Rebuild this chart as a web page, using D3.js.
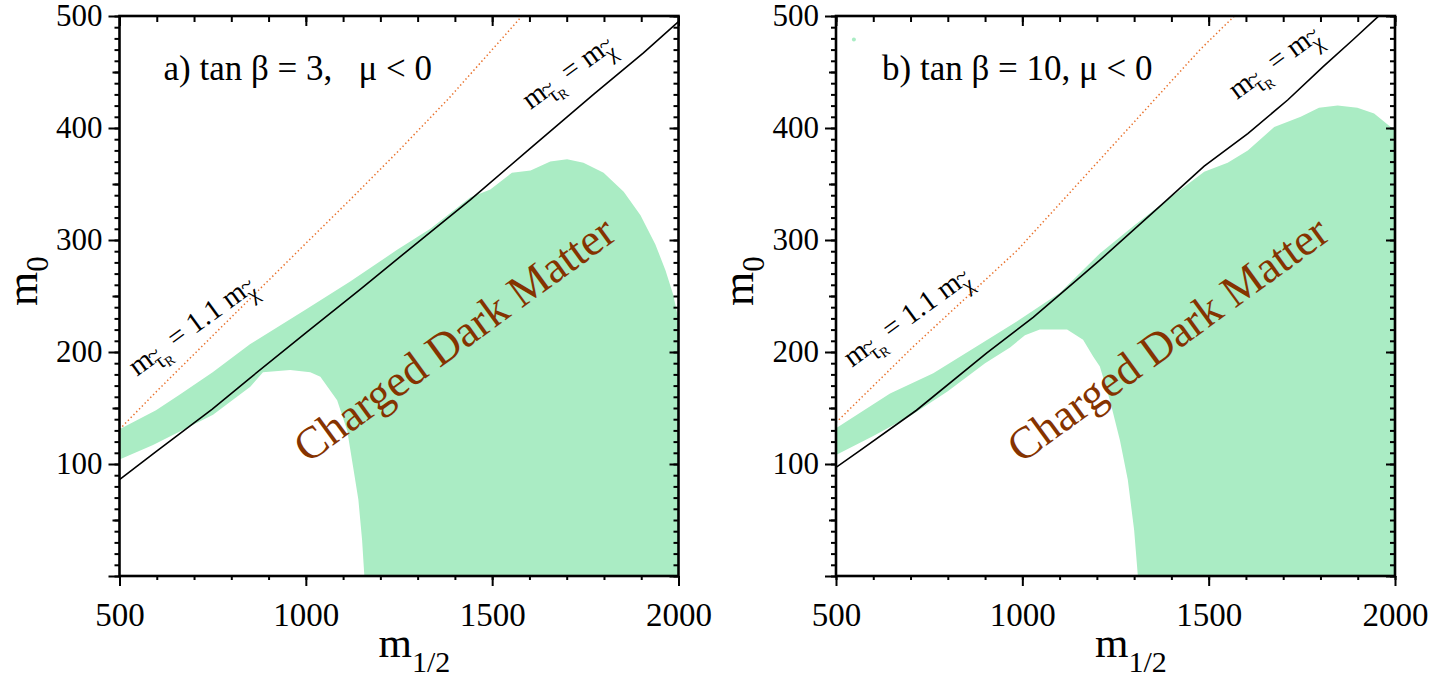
<!DOCTYPE html>
<html>
<head>
<meta charset="utf-8">
<script src="https://cdn.jsdelivr.net/npm/d3@7"></script>
<style>
  body { margin: 0; background: #fff; }
  text { font-family: "Liberation Serif", "Times New Roman", serif; }
</style>
</head>
<body>
<div id="chart"></div>
<script>
// ---- data (m_1/2, m_0) ----
const xTicks = [500, 1000, 1500, 2000];
const yTicks = [0, 100, 200, 300, 400, 500];

// panel a) tan beta = 3
const regionA = [[500,104],[500,131],[598,148],[662,162],[750,182],[850,207],[1000,238],[1119,263],
  [1244,291],[1334,310],[1441,338],[1495,345],[1553,360],[1603,362],[1656,370],[1701,372],[1745,369],
  [1799,360],[1853,343],[1898,322],[1938,296],[1965,273],[1986,251],[2000,229],[2000,0],[1157,0],
  [1151,32],[1141,68],[1127,97],[1111,130],[1084,157],[1039,178],[1012,182],[958,184],[885,182],
  [851,169],[751,144],[590,117],[500,104]];
const equalA = [[500,86],[598,111],[749,149],[851,177],[1000,217],[1146,256],[1275,291],[1442,336],
  [1603,382],[1772,430],[1906,467],[2000,495]];
const dottedA = [[500,131],[600,165],[700,198],[800,231],[900,264],[1000,297],[1119,336],[1250,380],
  [1388,428],[1500,470],[1580,500]];

// panel b) tan beta = 10
const regionB = [[500,108],[500,132],[645,163],[761,181],[877,205],[984,227],[1101,253],[1208,288],
  [1300,313],[1389,336],[1488,361],[1551,369],[1605,380],[1676,401],[1747,410],[1796,418],[1846,420],
  [1899,418],[1944,413],[1981,403],[2000,398],[2000,0],[1310,0],[1300,41],[1283,86],[1262,121],
  [1235,157],[1208,187],[1190,196],[1163,211],[1120,220],[1047,220],[1007,215],[967,204],[900,190],
  [800,165],[700,143],[600,125],[500,108]];
const equalB = [[500,97],[564,112],[716,148],[904,199],[1029,231],[1145,264],[1208,282],[1389,336],
  [1488,366],[1605,395],[1712,425],[1808,455],[1888,479],[1953,499],[1960,501]];
const dottedB = [[500,137],[708,205],[987,291],[1280,398],[1477,470],[1569,500]];
const speckB = [[548,479]];

const titles = ["a) tan \u03b2 = 3,   \u03bc < 0", "b) tan \u03b2 = 10, \u03bc < 0"];

const svgWidth = 1449, svgHeight = 681;
const plotW = 559, plotTop = 16, plotBottom = 576;
const green = "#aaecc4", orange = "#e8702a", brown = "#853300";

const svg = d3.select("#chart").append("svg")
  .attr("width", svgWidth)
  .attr("height", svgHeight);

const panels = [
  { left: 119.5, region: regionA, equal: equalA, dotted: dottedA, speck: [], title: titles[0],
    eqLabel: [1603, 416], dotLabel: [547, 178], cdm: [1005, 100] },
  { left: 836, region: regionB, equal: equalB, dotted: dottedB, speck: speckB, title: titles[1],
    eqLabel: [1576, 425], dotLabel: [543, 186], cdm: [997, 100] }
];

// write a rotated label made of pieces with sizes and shifts
function mathLabel(g, x, y, angle, parts, color) {
  const t = g.append("text")
    .attr("transform", `translate(${x},${y}) rotate(${angle})`)
    .style("white-space", "pre")
    .attr("fill", color || "#000");
  parts.forEach(p => {
    t.append("tspan")
      .attr("font-size", p.size)
      .attr("dx", p.dx || 0)
      .attr("dy", p.dy || 0)
      .text(p.t);
  });
  return t;
}

// m with tilde-tau-R subscript
const stauParts = [
  { t: "m", size: 29 },
  { t: "\u03c4", size: 22, dy: 8 },
  { t: "~", size: 22, dx: -11, dy: -10 },
  { t: "R", size: 14, dx: -1, dy: 13 },
  { t: " = ", size: 29, dy: -11 }
];
const chiParts = [
  { t: "m", size: 29 },
  { t: "\u03c7", size: 22, dy: 8 },
  { t: "~", size: 22, dx: -11, dy: -11 }
];

panels.forEach((p, i) => {
  const x = d3.scaleLinear().domain([500, 2000]).range([p.left, p.left + plotW]);
  const y = d3.scaleLinear().domain([0, 500]).range([plotBottom, plotTop]);
  const g = svg.append("g");

  const clipId = "clip" + i;
  svg.append("clipPath").attr("id", clipId)
    .append("rect")
    .attr("x", p.left).attr("y", plotTop)
    .attr("width", plotW).attr("height", plotBottom - plotTop);

  const plot = g.append("g").attr("clip-path", `url(#${clipId})`);

  plot.append("path")
    .attr("d", d3.line().x(d => x(d[0])).y(d => y(d[1]))(p.region) + "Z")
    .attr("fill", green);

  plot.selectAll("circle.speck").data(p.speck).enter()
    .append("circle")
    .attr("cx", d => x(d[0])).attr("cy", d => y(d[1]))
    .attr("r", 2).attr("fill", green);

  plot.append("path")
    .attr("d", d3.line().x(d => x(d[0])).y(d => y(d[1]))(p.dotted))
    .attr("fill", "none")
    .attr("stroke", orange)
    .attr("stroke-width", 1.5)
    .attr("stroke-dasharray", "1.4,2.6");

  plot.append("path")
    .attr("d", d3.line().x(d => x(d[0])).y(d => y(d[1]))(p.equal))
    .attr("fill", "none")
    .attr("stroke", "#000")
    .attr("stroke-width", 1.6);

  // ticks: left (outward) with labels
  const leftAxis = g.append("g").attr("transform", `translate(${p.left},0)`);
  leftAxis.append("g").call(d3.axisLeft(y).tickValues(d3.range(0, 501, 10)).tickSize(5).tickFormat(""));
  leftAxis.append("g").call(d3.axisLeft(y).tickValues(d3.range(50, 500, 100)).tickSize(7).tickFormat(""));
  leftAxis.append("g").call(d3.axisLeft(y).tickValues(yTicks).tickSize(11).tickPadding(6)
    .tickFormat(d => d === 0 ? "" : d));

  // right (inward)
  const rightAxis = g.append("g").attr("transform", `translate(${p.left + plotW},0)`);
  rightAxis.append("g").call(d3.axisLeft(y).tickValues(d3.range(0, 501, 10)).tickSize(5).tickFormat(""));
  rightAxis.append("g").call(d3.axisLeft(y).tickValues(yTicks).tickSize(9).tickFormat(""));

  // top (inward)
  const topAxis = g.append("g").attr("transform", `translate(0,${plotTop})`);
  topAxis.append("g").call(d3.axisBottom(x).tickValues(d3.range(500, 2001, 100)).tickSize(6).tickFormat(""));
  topAxis.append("g").call(d3.axisBottom(x).tickValues(xTicks).tickSize(10).tickFormat(""));

  // bottom (outward) with labels
  const bottomAxis = g.append("g").attr("transform", `translate(0,${plotBottom})`);
  bottomAxis.append("g").call(d3.axisBottom(x).tickValues(d3.range(500, 2001, 100)).tickSize(4).tickFormat(""));
  bottomAxis.append("g").call(d3.axisBottom(x).tickValues(xTicks).tickSize(10).tickPadding(17)
    .tickFormat(d3.format("d")));

  g.selectAll(".domain").remove();
  g.selectAll(".tick line").attr("stroke", "#000").attr("stroke-width", 2);
  leftAxis.selectAll("text").attr("font-family", "Liberation Serif").attr("font-size", 31).attr("fill", "#000");
  bottomAxis.selectAll("text").attr("font-family", "Liberation Serif").attr("font-size", 33).attr("fill", "#000");

  // frame
  g.append("rect")
    .attr("x", p.left).attr("y", plotTop)
    .attr("width", plotW).attr("height", plotBottom - plotTop)
    .attr("fill", "none")
    .attr("stroke", "#000")
    .attr("stroke-width", 2.6);

  // axis titles
  const xl = g.append("text")
    .attr("x", p.left + 259).attr("y", 657)
    .attr("fill", "#000");
  xl.append("tspan").attr("font-size", 43).text("m");
  xl.append("tspan").attr("font-size", 30).attr("dy", 15).text("1/2");

  const yl = g.append("text")
    .attr("transform", `translate(${p.left - 83},306) rotate(-90)`)
    .attr("fill", "#000");
  yl.append("tspan").attr("font-size", 44).text("m");
  yl.append("tspan").attr("font-size", 31).attr("dy", 11).text("0");

  // panel title
  g.append("text")
    .attr("x", p.left + 44 + (i === 1 ? 2 : 0)).attr("y", 80)
    .attr("font-size", 35)
    .style("white-space", "pre")
    .attr("fill", "#000")
    .text(p.title);

  // line labels
  mathLabel(g, x(p.eqLabel[0]), y(p.eqLabel[1]), -36, stauParts.concat(chiParts));
  mathLabel(g, x(p.dotLabel[0]), y(p.dotLabel[1]), -36,
    stauParts.map(c => c.t === " = " ? Object.assign({}, c, { t: " = 1.1 " }) : c).concat(chiParts));

  mathLabel(g, x(p.cdm[0]), y(p.cdm[1]), -36, [
    { t: "Charged Dark Matter", size: 45 }
  ], brown);
});
</script>
</body>
</html>
